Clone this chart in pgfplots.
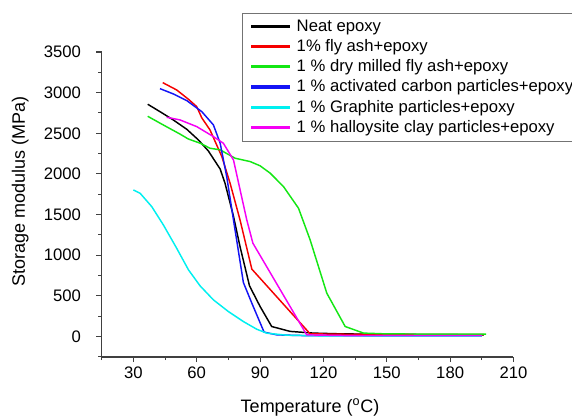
\documentclass[border=0pt]{standalone}
\usepackage{pgfplots}
\pgfplotsset{compat=1.18}
\usepackage{fontspec}
\setmainfont{Liberation Sans}
\definecolor{mygreen}{RGB}{20,230,20}
\definecolor{myblue}{RGB}{20,20,245}
\definecolor{mycyan}{RGB}{0,240,240}
\definecolor{mymag}{RGB}{245,0,245}
\definecolor{myred}{RGB}{245,0,0}
\begin{document}
\begin{tikzpicture}
\begin{axis}[name=ax, scale only axis, width=309pt, height=228.75pt,
 xmin=15, xmax=210, ymin=-250, ymax=3500,
 xtick={30,60,...,210}, minor xtick={15,45,...,195},
 ytick={0,500,...,3500}, minor ytick={-250,250,...,3250},
 axis x line*=bottom, axis y line*=left,
 axis line style={-, line width=1pt, color=black!75},
 tick align=outside, major tick length=4pt, minor tick length=2.5pt,
 every tick/.style={line width=0.8pt, black!75},
 tick label style={font=\fontsize{12.5}{14}\selectfont},
 yticklabel style={xshift=-8pt},
 /pgf/number format/assume math mode=true,
 /pgf/number format/1000 sep={},
 scaled ticks=false,
 xlabel={Temperature (\textsuperscript{o}C)},
 ylabel={Storage modulus (MPa)},
 label style={font=\fontsize{13.5}{15}\selectfont},
 xlabel style={at={(axis description cs:0.506,-0.167)}, anchor=center},
 ylabel style={at={(axis description cs:-0.198,0.543)}, anchor=center},
 legend style={at={(0.34,1.128)}, anchor=north west, draw=black!55,
   font=\fontsize{12.5}{14}\selectfont, cells={anchor=west}, row sep=0.6pt, inner xsep=7pt, inner ysep=3pt},
 legend cell align=left,
 legend image code/.code={\fill[#1] (0pt,-0.65pt) rectangle (28pt,0.65pt); \path (31pt,0pt);},
 every axis plot/.append style={line width=1.1pt, no markers},
]
\addplot[color=black] coordinates {(36.8,2857) (42.6,2766) (48.9,2664) (55.3,2549) (60.8,2418) (65.5,2283) (71.1,2060) (73.4,1886) (77.4,1480) (80.5,1107) (85,623) (90,370) (95.5,123) (104.2,63) (115.3,42) (127.9,33) (145,28) (170,24) (196,20)};
\addlegendentry{Neat epoxy}
\addplot[color=myred] coordinates {(43.9,3123) (50.5,3033) (56.1,2918) (60,2828) (62.4,2690) (66.3,2541) (71.9,2213) (75.8,1886) (80.5,1435) (86.1,829) (113.7,33) (130,28) (160,25) (196,22)};
\addlegendentry{1\% fly ash+epoxy}
\addplot[color=mygreen] coordinates {(36.8,2709) (44.2,2602) (52.1,2490) (56,2430) (61.6,2378) (66.3,2316) (71.1,2296) (78.2,2193) (85.3,2152) (90,2100) (94.8,2009) (101.1,1844) (108.2,1578) (113.7,1189) (121.6,533) (130.3,123) (139,42) (150,32) (170,30) (197,30)};
\addlegendentry{1 \% dry milled fly ash+epoxy}
\addplot[color=myblue] coordinates {(42.6,3049) (48.9,2984) (55.3,2902) (62.4,2766) (67.9,2603) (71.1,2378) (74.2,1967) (77.4,1435) (82.1,664) (86.1,410) (91.9,54) (98,20) (110,12) (130,10) (160,8) (195,8)};
\addlegendentry{1 \% activated carbon particles+epoxy}
\addplot[color=mycyan] coordinates {(30,1803) (33.2,1762) (38.7,1598) (44.2,1373) (50.5,1086) (56.1,820) (61.6,623) (67.9,451) (75,307) (82.1,184) (88.4,90) (93.2,41) (102.6,16) (120,8) (150,5) (195,5)};
\addlegendentry{1 \% Graphite particles+epoxy}
\addplot[color=mymag] coordinates {(45.8,2697) (52.1,2664) (60,2582) (67.9,2459) (72.6,2378) (77.4,2172) (83.7,1435) (86.6,1148) (112.1,20) (130,12) (160,10) (195,10)};
\addlegendentry{1 \% halloysite clay particles+epoxy}
\end{axis}
\pgfresetboundingbox
\path ([shift={(-76.3pt,-46.5pt)}]ax.south west) rectangle ([shift={(43.9pt,39pt)}]ax.north east);
\end{tikzpicture}
\end{document}
